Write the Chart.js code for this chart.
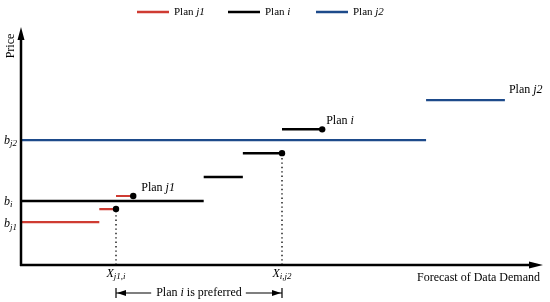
<!DOCTYPE html>
<html>
<head>
<meta charset="utf-8">
<script src="https://cdn.jsdelivr.net/npm/chart.js@4"></script>
<style>
  html, body { margin: 0; padding: 0; background: #fff; }
  #wrap { width: 550px; height: 302px; }
</style>
</head>
<body>
<div id="wrap"><canvas id="c"></canvas></div>
<script>
// plan price steps: start demand, end demand, price
const j1Start = [0, 15, 18.2];
const j1End   = [15, 18.2, 21.5];
const j1Price = [18, 23.5, 29];
const j1Dots  = [false, true, true];

const iStart = [0, 35, 42.5, 50];
const iEnd   = [35, 42.5, 50, 57.7];
const iPrice = [26.9, 37, 47, 57];
const iDots  = [false, false, true, true];

const j2Start = [0, 77.6];
const j2End   = [77.6, 92.7];
const j2Price = [52.5, 69.3];

// crossover demands and the price where the dotted guide stops
const crossX     = [18.2, 50];
const crossPrice = [23.5, 47];
const crossNames = ['j1,i', 'i,j2'];

const RED = '#cf3b32', BLACK = '#000', BLUE = '#1d4a8a';
const SERIF = '"Liberation Serif", "Times New Roman", serif';

function steps(starts, ends, prices, dots) {
  const pts = [];
  starts.forEach((s, k) => {
    pts.push({ x: s, y: prices[k], dot: false });
    pts.push({ x: ends[k], y: prices[k], dot: dots ? dots[k] : false });
    pts.push({ x: ends[k], y: null, dot: false });
  });
  return pts;
}
function guides() {
  const pts = [];
  crossX.forEach((x, k) => { pts.push({ x, y: 0 }, { x, y: crossPrice[k] }, { x, y: null }); });
  return pts;
}

// draw mixed text: runs of [text, italic, subscript]
function runs(ctx, parts, x, y, align, size) {
  size = size || 12;
  const sub = Math.round(size * 0.72);
  const fontOf = p => (p[1] ? 'italic ' : '') + (p[2] ? sub : size) + 'px ' + SERIF;
  let w = 0;
  parts.forEach(p => { ctx.font = fontOf(p); w += ctx.measureText(p[0]).width; });
  let cx = align === 'center' ? x - w / 2 : align === 'right' ? x - w : x;
  ctx.textBaseline = 'middle'; ctx.textAlign = 'left'; ctx.fillStyle = '#000';
  parts.forEach(p => {
    ctx.font = fontOf(p);
    ctx.fillText(p[0], cx, y + (p[2] ? 3 : 0));
    cx += ctx.measureText(p[0]).width;
  });
  return w;
}

const decor = {
  id: 'decor',
  afterDatasetsDraw(chart) {
    const { ctx, chartArea: a, scales: { x, y } } = chart;
    ctx.save();
    // axes with arrow heads
    ctx.strokeStyle = '#000'; ctx.fillStyle = '#000'; ctx.lineWidth = 2.5;
    ctx.beginPath();
    ctx.moveTo(a.left, a.bottom + 1); ctx.lineTo(a.left, a.top + 8);
    ctx.moveTo(a.left - 1, a.bottom); ctx.lineTo(a.right - 10, a.bottom);
    ctx.stroke();
    ctx.beginPath();
    ctx.moveTo(a.left, a.top); ctx.lineTo(a.left - 3.5, a.top + 13); ctx.lineTo(a.left + 3.5, a.top + 13); ctx.closePath();
    ctx.moveTo(a.right, a.bottom); ctx.lineTo(a.right - 14, a.bottom - 3.5); ctx.lineTo(a.right - 14, a.bottom + 3.5); ctx.closePath();
    ctx.fill();

    // y labels
    runs(ctx, [['b', true], ['j2', true, true]], 4, y.getPixelForValue(j2Price[0]) + 1, 'left');
    runs(ctx, [['b', true], ['i', true, true]], 4, y.getPixelForValue(iPrice[0]) + 1, 'left');
    runs(ctx, [['b', true], ['j1', true, true]], 4, y.getPixelForValue(j1Price[0]) + 2, 'left');

    // x labels at crossovers
    crossX.forEach((cx, k) => {
      runs(ctx, [['X', true], [crossNames[k], true, true]], x.getPixelForValue(cx), a.bottom + 9, 'center');
    });
    runs(ctx, [['Forecast of Data Demand', false]], a.right - 3, a.bottom + 13, 'right');

    // axis title
    ctx.save();
    ctx.translate(11, 46); ctx.rotate(-Math.PI / 2);
    runs(ctx, [['Price', false]], 0, 0, 'center');
    ctx.restore();

    // inline plan labels
    runs(ctx, [['Plan ', false], ['j1', true]], x.getPixelForValue(j1End[2]) + 8, y.getPixelForValue(j1Price[2]) - 8, 'left');
    runs(ctx, [['Plan ', false], ['i', true]], x.getPixelForValue(iEnd[3]) + 4, y.getPixelForValue(iPrice[3]) - 8, 'left');
    runs(ctx, [['Plan ', false], ['j2', true]], x.getPixelForValue(j2End[1]) + 4, y.getPixelForValue(j2Price[1]) - 10, 'left');

    // preferred range arrow
    const xa = x.getPixelForValue(crossX[0]), xb = x.getPixelForValue(crossX[1]), ya = 293;
    const mid = (xa + xb) / 2;
    const tw = runs(ctx, [['Plan ', false], ['i', true], [' is preferred', false]], mid, ya, 'center');
    ctx.lineWidth = 1.2; ctx.strokeStyle = '#000';
    ctx.beginPath();
    ctx.moveTo(xa, ya); ctx.lineTo(mid - tw / 2 - 5, ya);
    ctx.moveTo(mid + tw / 2 + 4, ya); ctx.lineTo(xb, ya);
    ctx.moveTo(xa, ya - 5); ctx.lineTo(xa, ya + 5);
    ctx.moveTo(xb, ya - 5); ctx.lineTo(xb, ya + 5);
    ctx.stroke();
    ctx.beginPath();
    ctx.moveTo(xa + 1, ya); ctx.lineTo(xa + 10, ya - 3); ctx.lineTo(xa + 10, ya + 3); ctx.closePath();
    ctx.moveTo(xb - 1, ya); ctx.lineTo(xb - 10, ya - 3); ctx.lineTo(xb - 10, ya + 3); ctx.closePath();
    ctx.fill();

    // legend
    const legend = [[RED, [['Plan ', false], ['j1', true]], 137], [BLACK, [['Plan ', false], ['i', true]], 228], [BLUE, [['Plan ', false], ['j2', true]], 316]];
    legend.forEach(([col, parts, lx]) => {
      ctx.strokeStyle = col; ctx.lineWidth = 2.5;
      ctx.beginPath(); ctx.moveTo(lx, 12); ctx.lineTo(lx + 32, 12); ctx.stroke();
      runs(ctx, parts, lx + 37, 12, 'left', 11);
    });
    ctx.restore();
  }
};

const seg = (label, color, data, width) => ({
  label, data, borderColor: color, backgroundColor: '#000', borderWidth: width,
  showLine: true, spanGaps: false, clip: false,
  pointRadius: c => (c.raw && c.raw.dot ? 3.2 : 0), pointHoverRadius: 0, pointBorderWidth: 0
});

new Chart(document.getElementById('c'), {
  type: 'scatter',
  data: {
    datasets: [
      seg('Plan j2', BLUE, steps(j2Start, j2End, j2Price), 2.2),
      seg('Plan i', BLACK, steps(iStart, iEnd, iPrice, iDots), 2.5),
      seg('Plan j1', RED, steps(j1Start, j1End, j1Price, j1Dots), 2.2),
      { label: 'guides', data: guides(), borderColor: '#111', borderWidth: 1.4, borderDash: [1.4, 3],
        showLine: true, spanGaps: false, pointRadius: 0, clip: false }
    ]
  },
  options: {
    responsive: true, maintainAspectRatio: false, animation: false,
    layout: { padding: { left: 21, top: 27, right: 7, bottom: 37 } },
    scales: {
      x: { type: 'linear', min: 0, max: 100, display: false },
      y: { type: 'linear', min: 0, max: 100, display: false }
    },
    plugins: { legend: { display: false }, tooltip: { enabled: false } }
  },
  plugins: [decor]
});
</script>
</body>
</html>
